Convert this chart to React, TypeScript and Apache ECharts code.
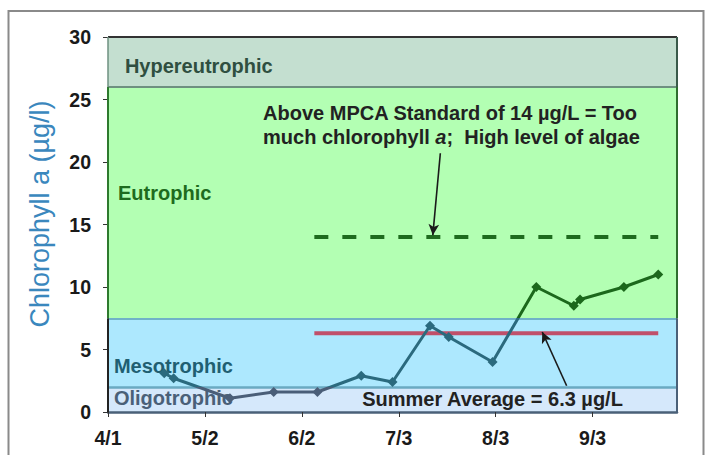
import React, { useEffect, useRef } from "react";
import * as echarts from "echarts";

const YEAR = 2009;
const START = "4/1";
const END = "9/30";

// Sampling dates and chlorophyll a values (µg/L)
const sampleDates = ["4/19", "4/22", "5/10", "5/24", "6/7", "6/21", "7/1", "7/13", "7/19", "8/2", "8/16", "8/28", "8/30", "9/13", "9/24"];
const chlorophyll = [3.1, 2.7, 1.1, 1.6, 1.6, 2.9, 2.4, 6.9, 6.0, 4.0, 10.0, 8.5, 9.0, 10.0, 11.0];

// Reference lines
const refLineDates = ["6/6", "9/24"];
const summerAverage = 6.3;
const mpcaStandard = 14;

// Trophic bands (µg/L)
const bandNames = ["Oligotrophic", "Mesotrophic", "Eutrophic", "Hypereutrophic"];
const bandBounds = [0, 2, 7.5, 26, 30];
const bandColors = ["#D5E8FB", "#ADE8FE", "#B3FFB3", "#C4DFD0"];

// Axis ticks
const xTickLabels = ["4/1", "5/2", "6/2", "7/3", "8/3", "9/3"];
const yTicks = [0, 5, 10, 15, 20, 25, 30];

const FONT = '"Liberation Sans", Arial, sans-serif';

function dayOf(md: string): number {
  const [m, d] = md.split("/").map(Number);
  const [m0, d0] = START.split("/").map(Number);
  return Math.round((Date.UTC(YEAR, m - 1, d) - Date.UTC(YEAR, m0 - 1, d0)) / 86400000);
}
function mdOf(day: number): string {
  const [m0, d0] = START.split("/").map(Number);
  const dt = new Date(Date.UTC(YEAR, m0 - 1, d0) + Math.round(day) * 86400000);
  return `${dt.getUTCMonth() + 1}/${dt.getUTCDate()}`;
}

export default function App() {
  const ref = useRef<HTMLDivElement>(null);

  useEffect(() => {
    if (!ref.current) return;
    document.body.style.margin = "0";
    const chart = echarts.init(ref.current, null, { renderer: "svg" });
    const xMax = dayOf(END);
    const xTicks = xTickLabels.map(dayOf);
    const mainData = sampleDates.map((d, i) => [dayOf(d), chlorophyll[i]]);
    const r0 = dayOf(refLineDates[0]);
    const r1 = dayOf(refLineDates[1]);

    const seg = (x0: number, y0: number, x1: number, y1: number, color: string, width: number) => [
      { coord: [x0, y0], lineStyle: { color, width, type: "solid" } },
      { coord: [x1, y1] },
    ];

    const option: any = {
      animation: false,
      backgroundColor: "#ffffff",
      textStyle: { fontFamily: FONT },
      grid: { left: 108, right: 30, top: 37, bottom: 43 },
      xAxis: {
        type: "value",
        min: 0,
        max: xMax,
        z: 1,
        axisLine: { show: true, lineStyle: { color: "#4A6078", width: 2.5 } },
        axisTick: { show: true, customValues: xTicks, length: 5, lineStyle: { color: "#333" } },
        axisLabel: {
          customValues: xTicks,
          formatter: (v: number) => mdOf(v),
          fontWeight: "bold",
          fontSize: 19.5,
          color: "#1a1a1a",
          fontFamily: FONT,
          margin: 16,
        },
        splitLine: { show: false },
      },
      yAxis: {
        type: "value",
        min: 0,
        max: 30,
        interval: 5,
        z: 1,
        axisLine: { show: false },
        axisTick: { show: true, length: 5, lineStyle: { color: "#333" } },
        axisLabel: { fontWeight: "bold", fontSize: 19.5, color: "#1a1a1a", fontFamily: FONT, margin: 17 },
        splitLine: {
          show: true,
          lineStyle: {
            width: 1.2,
            color: yTicks.map((t) => (t === 0 || t === 30 ? "rgba(0,0,0,0)" : t < 7.5 ? "#2A6272" : "#5A9C5A")),
          },
        },
      },
      visualMap: {
        type: "piecewise",
        show: false,
        dimension: 1,
        seriesIndex: 4,
        pieces: [
          { lt: bandBounds[1], color: "#4A5E78" },
          { gte: bandBounds[1], lt: bandBounds[2], color: "#2B6A7E" },
          { gte: bandBounds[2], color: "#1C681C" },
        ],
      },
      series: [
        {
          type: "line",
          z: 0,
          data: [],
          silent: true,
          markArea: {
            silent: true,
            data: bandNames.map((n, i) => [
              { name: "", yAxis: bandBounds[i], itemStyle: { color: bandColors[i] } },
              { yAxis: bandBounds[i + 1] },
            ]),
          },
          markLine: {
            silent: true,
            symbol: ["none", "none"],
            label: { show: false },
            data: [
              seg(0, 2, xMax, 2, "#6AAAC2", 2.5),
              seg(0, 7.5, xMax, 7.5, "#70B2C8", 2.2),
              seg(0, 26, xMax, 26, "#6E9080", 2),
              seg(0, 30, xMax, 30, "#333333", 2),
              seg(0, 0, 0, 7.5, "#222222", 2),
              seg(0, 7.5, 0, 26, "#2E7A2E", 2),
              seg(0, 26, 0, 30, "#6E9080", 1.5),
              seg(xMax, 0, xMax, 7.5, "#4A6078", 2),
              seg(xMax, 7.5, xMax, 26, "#2E6E2E", 2),
              seg(xMax, 26, xMax, 30, "#3A5A4A", 2),
            ],
          },
        },
        {
          type: "line",
          z: 3,
          name: "Summer Average",
          data: [[r0, summerAverage], [r1, summerAverage]],
          symbol: "none",
          lineStyle: { color: "#C0506A", width: 4 },
          silent: true,
        },
        {
          type: "line",
          z: 3,
          name: "MPCA Standard",
          data: [[r0, mpcaStandard], [r1, mpcaStandard]],
          symbol: "none",
          lineStyle: { color: "#1E6B1E", width: 4, type: [14, 14] },
          silent: true,
        },
        {
          type: "line",
          z: 4,
          data: [],
          silent: true,
          markLine: {
            silent: true,
            symbol: ["none", "arrow"],
            symbolSize: [8, 11],
            label: { show: false },
            lineStyle: { color: "#1a1a1a", width: 1.6, type: "solid" },
            data: [
              [{ coord: [106.3, 20.7] }, { coord: [103.9, 14.15] }],
              [{ coord: [146.7, 2.1] }, { coord: [138.9, 6.4] }],
            ],
          },
        },
        {
          type: "line",
          z: 5,
          name: "Chlorophyll a",
          data: mainData,
          symbol: "diamond",
          symbolSize: 10,
          lineStyle: { width: 3 },
        },
      ],
    };
    chart.setOption(option);

    const px = (x: number, y: number) => chart.convertToPixel({ gridIndex: 0 }, [x, y]) as number[];
    const boldText = (text: string, pos: number[], fill: string) => ({
      type: "text",
      x: pos[0],
      y: pos[1],
      z: 2,
      style: { text, fill, fontSize: 20, fontWeight: "bold", fontFamily: FONT, align: "left", verticalAlign: "middle" },
    });
    const rich = {
      n: { fontSize: 20, fontWeight: "bold", fontFamily: FONT, fill: "#222" },
      it: { fontSize: 20, fontWeight: "bold", fontStyle: "italic", fontFamily: FONT, fill: "#222" },
    };
    const l2 = px(49.6, 22.0);
    chart.setOption({
      graphic: [
        {
          type: "rect",
          z: 10,
          shape: { x: 8.5, y: 11, width: 695, height: 470 },
          style: { fill: "none", stroke: "#8a8a8a", lineWidth: 2 },
          silent: true,
        },
        {
          type: "text",
          x: 40,
          y: 214,
          rotation: Math.PI / 2,
          z: 2,
          style: {
            text: "Chlorophyll a (µg/l)",
            fill: "#3A87BD",
            fontSize: 27,
            fontFamily: FONT,
            align: "center",
            verticalAlign: "middle",
          },
        },
        boldText(bandNames[3], px(5.4, 27.7), "#2F4F40"),
        boldText(bandNames[2], px(3.2, 17.5), "#1E6B1E"),
        boldText(bandNames[1], px(1.9, 3.7), "#1F5F72"),
        boldText(bandNames[0], px(1.9, 1.1), "#4A6078"),
        boldText(`Summer Average = ${summerAverage} µg/L`, px(81.3, 1.05), "#222"),
        boldText(`Above MPCA Standard of ${mpcaStandard} µg/L = Too`, px(49.6, 23.9), "#222"),
        {
          type: "text",
          x: l2[0],
          y: l2[1],
          z: 2,
          style: {
            text: "{n|much chlorophyll }{it|a}{n|;  High level of algae}",
            rich,
            fontSize: 20,
            fontWeight: "bold",
            fontFamily: FONT,
            fill: "#222",
            align: "left",
            verticalAlign: "middle",
          },
        },
      ],
    });

    return () => chart.dispose();
  }, []);

  return <div ref={ref} style={{ position: "fixed", left: 0, top: 0, width: 707, height: 455 }} />;
}
